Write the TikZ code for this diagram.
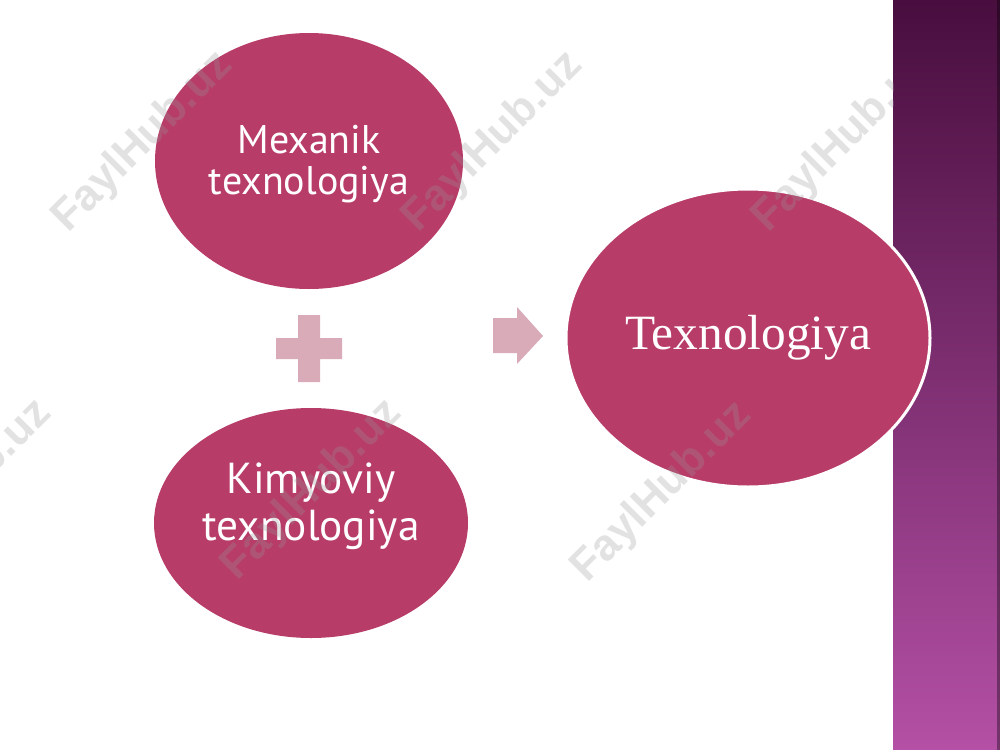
\documentclass[tikz,border=0pt]{standalone}
\usepackage{fontspec}
\setmainfont{Liberation Serif}
\newfontfamily\ptsans{PT Sans}
\newfontfamily\wmfont{Liberation Sans}
\usetikzlibrary{shapes.geometric}
\definecolor{ellfill}{RGB}{184,60,104}
\definecolor{signfill}{RGB}{217,170,184}
\definecolor{striptop}{RGB}{72,14,62}
\definecolor{stripmid}{RGB}{138,56,128}
\definecolor{stripbot}{RGB}{180,80,165}
\definecolor{wmgray}{RGB}{150,150,150}
\tikzset{
  ellbox/.style={ellipse, fill=ellfill, draw=none, inner sep=0pt},
  smalltxt/.style={text=white, align=center, font=\ptsans\fontsize{30}{31}\selectfont},
  bigtxt/.style={text=white, align=center, font=\ptsans\fontsize{32.5}{35}\selectfont},
  seriftxt/.style={text=white, font=\fontsize{37}{44}\selectfont},
  signshape/.style={fill=signfill, draw=none},
  wm/.style={text=wmgray, text opacity=0.27, rotate=45, font=\wmfont\bfseries\fontsize{33}{33}\selectfont}
}
\begin{document}
\begin{tikzpicture}[x=0.75pt,y=-0.75pt]
\useasboundingbox (0,0) rectangle (1000,750);
\fill[white] (0,0) rectangle (1000,750);
% side strip
\shade[top color=striptop, middle color=stripmid, bottom color=stripbot] (893,0) rectangle (1000,750);
\fill[black, opacity=0.35] (997,0) rectangle (1000,750);
% ellipses
\node[ellbox, minimum width=231pt, minimum height=192pt] (mex) at (309,161) {};
\node[ellbox, minimum width=235.5pt, minimum height=172.5pt] (kim) at (311,523) {};
\node[ellbox, draw=white, line width=2.25pt, minimum width=273pt, minimum height=223.5pt] (tex) at (748,338) {};
% texts
\node[smalltxt] (mext) at (309,164) {Mexanik\\texnologiya};
\node[bigtxt] (kimt) at (311,506) {Kimyoviy\\texnologiya};
\node[seriftxt] (text) at (748,338) {Texnologiya};
% plus sign
\fill[signshape] (298,315) -- (320,315) -- (320,338) -- (342,338) -- (342,359) -- (320,359) -- (320,382) -- (298,382) -- (298,359) -- (276,359) -- (276,338) -- (298,338) -- cycle;
% arrow
\fill[signshape] (493,318) -- (517,318) -- (517,307) -- (543,336) -- (517,364) -- (517,353) -- (493,353) -- cycle;
% watermarks
\begin{scope}
\clip (0,0) rectangle (893,750);
\node[wm] (w1) at (143,142) {FaylHub.uz};
\node[wm] (w2) at (493,142) {FaylHub.uz};
\node[wm] (w3) at (843,142) {FaylHub.uz};
\node[wm] (w4) at (-38,490) {FaylHub.uz};
\node[wm] (w5) at (312,490) {FaylHub.uz};
\node[wm] (w6) at (662,492) {FaylHub.uz};
\end{scope}
\end{tikzpicture}
\end{document}
